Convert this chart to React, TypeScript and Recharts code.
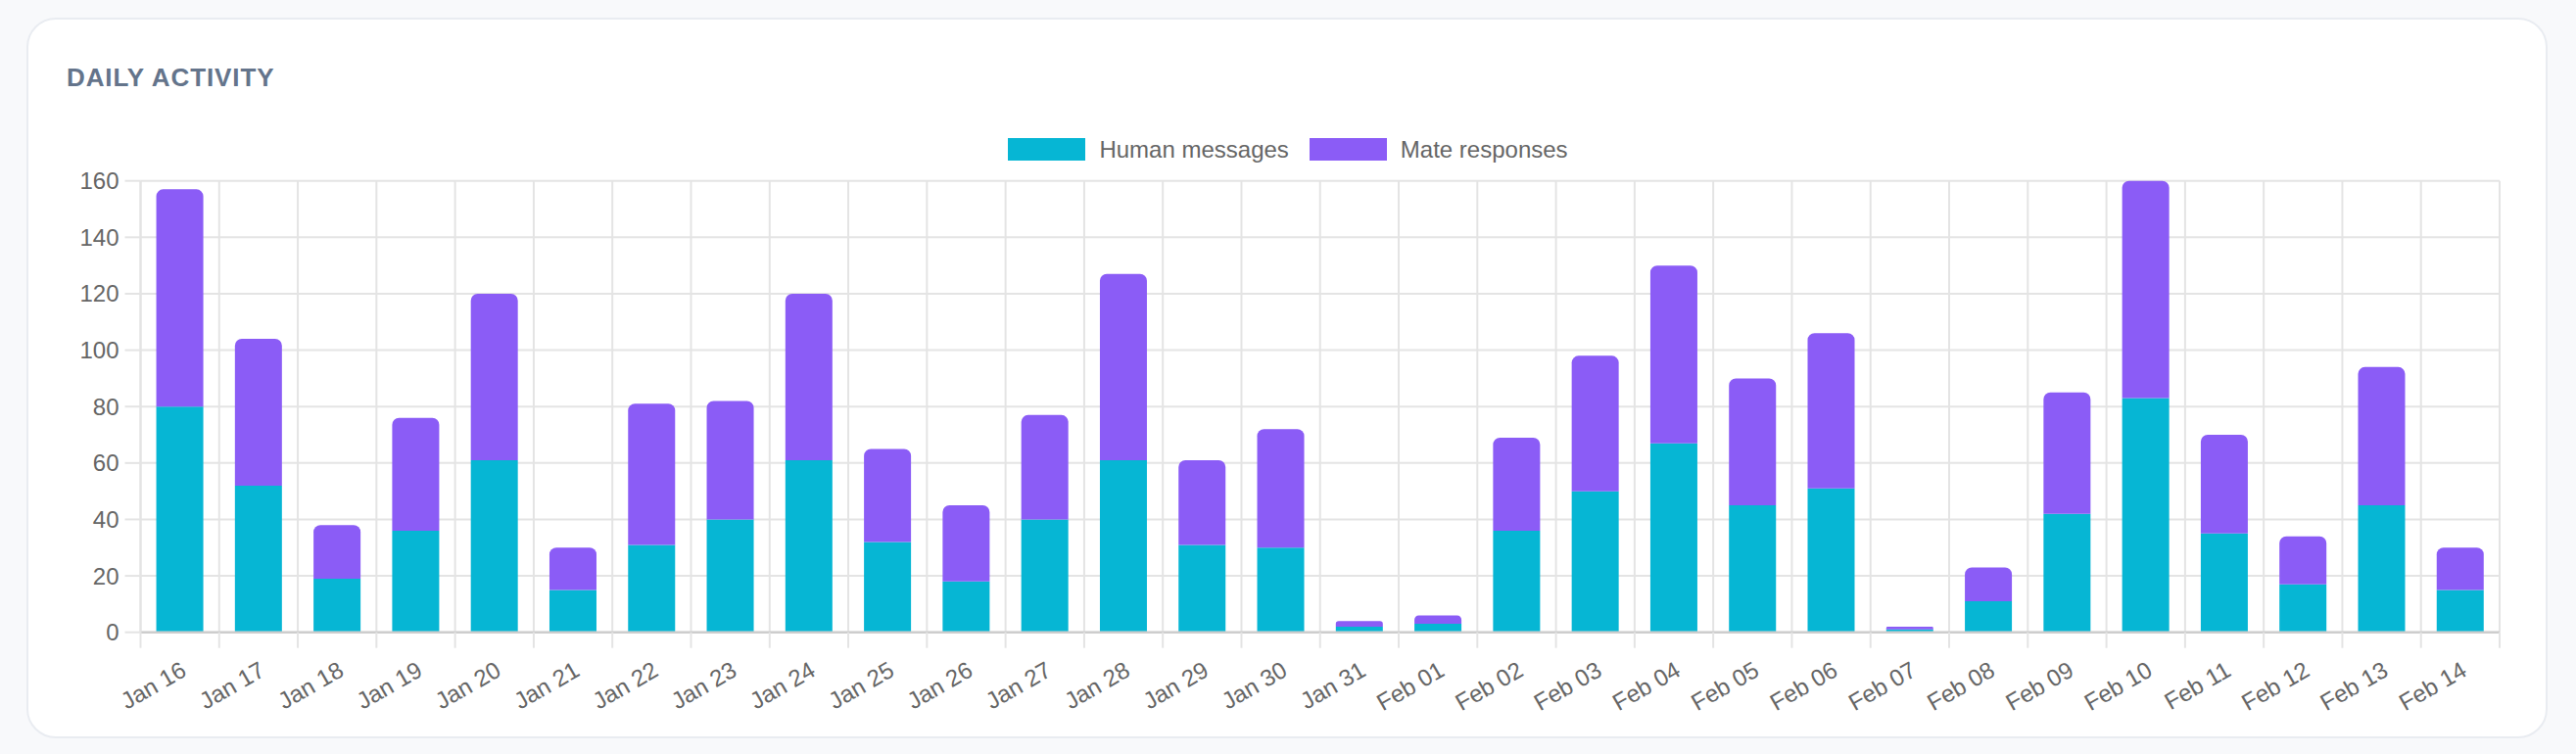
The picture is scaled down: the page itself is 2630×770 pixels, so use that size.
import React from 'react';
import { BarChart, Bar, XAxis, YAxis, CartesianGrid, Legend } from 'recharts';

const days = [
  'Jan 16', 'Jan 17', 'Jan 18', 'Jan 19', 'Jan 20', 'Jan 21', 'Jan 22', 'Jan 23', 'Jan 24', 'Jan 25',
  'Jan 26', 'Jan 27', 'Jan 28', 'Jan 29', 'Jan 30', 'Jan 31', 'Feb 01', 'Feb 02', 'Feb 03', 'Feb 04',
  'Feb 05', 'Feb 06', 'Feb 07', 'Feb 08', 'Feb 09', 'Feb 10', 'Feb 11', 'Feb 12', 'Feb 13', 'Feb 14',
];
const humanMessages = [80, 52, 19, 36, 61, 15, 31, 40, 61, 32, 18, 40, 61, 31, 30, 2, 3, 36, 50, 67, 45, 51, 1, 11, 42, 83, 35, 17, 45, 15];
const mateResponses = [77, 52, 19, 40, 59, 15, 50, 42, 59, 33, 27, 37, 66, 30, 42, 2, 3, 33, 48, 63, 45, 55, 1, 12, 43, 77, 35, 17, 49, 15];
const yTicks = [0, 20, 40, 60, 80, 100, 120, 140, 160];

const data = days.map((day, i) => ({
  day,
  human: humanMessages[i],
  mate: mateResponses[i],
}));

const CYAN = '#06b6d4';
const VIOLET = '#8b5cf6';
const GRID = '#e4e4e4';
const FONT = "'Liberation Sans', Arial, Helvetica, sans-serif";

const W = 2630;
const H = 770;
const MARGIN = { top: 184.7, right: 78, bottom: 44.3, left: 63.5 };
const Y_WIDTH = 80;
const PLOT_W = W - MARGIN.left - Y_WIDTH - MARGIN.right;

const XTick = (props: any) => {
  const { x, y, payload, index } = props;
  const half = typeof payload?.offset === 'number' && payload.offset > 0 ? payload.offset : PLOT_W / days.length / 2;
  return (
    <g>
      <line x1={x - half} x2={x - half} y1={y} y2={y + 16} stroke={GRID} strokeWidth={2} />
      {index === days.length - 1 && (
        <line x1={x + half} x2={x + half} y1={y} y2={y + 16} stroke={GRID} strokeWidth={2} />
      )}
      <g transform={`translate(${x + 4},${y + 36})`}>
        <text
          transform="rotate(-30)"
          textAnchor="end"
          dominantBaseline="central"
          fill="#666"
          fontSize={24}
          fontFamily={FONT}
        >
          {payload.value}
        </text>
      </g>
    </g>
  );
};

const LegendContent = () => {
  const items = [
    { label: 'Human messages', color: CYAN },
    { label: 'Mate responses', color: VIOLET },
  ];
  return (
    <div style={{ display: 'flex', justifyContent: 'center', alignItems: 'center', gap: 21, height: 23 }}>
      {items.map((it) => (
        <div key={it.label} style={{ display: 'flex', alignItems: 'center', gap: 14 }}>
          <span style={{ display: 'inline-block', width: 79, height: 23, background: it.color }} />
          <span style={{ fontSize: 24, lineHeight: '24px', color: '#666', fontFamily: FONT }}>{it.label}</span>
        </div>
      ))}
    </div>
  );
};

export default function App() {
  return (
    <div style={{ position: 'absolute', left: 0, top: 0, width: W, height: H, background: '#f8f9fb', overflow: 'hidden' }}>
      <div
        style={{
          position: 'absolute',
          left: 27,
          top: 18,
          width: 2574,
          height: 736,
          boxSizing: 'border-box',
          background: '#ffffff',
          border: '2px solid #e9ecf1',
          borderRadius: 30,
        }}
      />
      <div
        style={{
          position: 'absolute',
          left: 68,
          top: 66,
          fontFamily: FONT,
          fontSize: 26,
          lineHeight: '26px',
          fontWeight: 700,
          letterSpacing: 0.9,
          color: '#64748b',
        }}
      >
        DAILY ACTIVITY
      </div>
      <div style={{ position: 'absolute', left: 0, top: 0 }}>
        <BarChart width={W} height={H} data={data} margin={MARGIN} barCategoryGap="20%">
          <CartesianGrid
            stroke={GRID}
            strokeWidth={2}
            verticalCoordinatesGenerator={({ offset }: any) =>
              days.map((_, i) => offset.left + (i * offset.width) / days.length).concat(offset.left + offset.width)
            }
          />
          <XAxis
            dataKey="day"
            interval={0}
            tickSize={0}
            tickMargin={0}
            height={80}
            axisLine={{ stroke: '#cdcdcd', strokeWidth: 2.5 }}
            tick={<XTick />}
          />
          <YAxis
            domain={[0, 160]}
            ticks={yTicks}
            width={Y_WIDTH}
            tickSize={16}
            tickMargin={6}
            axisLine={{ stroke: GRID, strokeWidth: 2 }}
            tickLine={{ stroke: GRID, strokeWidth: 2 }}
            tick={{ fill: '#666', fontSize: 24, fontFamily: FONT }}
          />
          <Legend
            layout="horizontal"
            verticalAlign="middle"
            align="center"
            content={<LegendContent />}
            wrapperStyle={{ top: 141, left: 0, width: W, height: 23 }}
          />
          <Bar dataKey="human" name="Human messages" stackId="a" fill={CYAN} isAnimationActive={false} />
          <Bar dataKey="mate" name="Mate responses" stackId="a" fill={VIOLET} radius={[7, 7, 0, 0]} isAnimationActive={false} />
        </BarChart>
      </div>
    </div>
  );
}
